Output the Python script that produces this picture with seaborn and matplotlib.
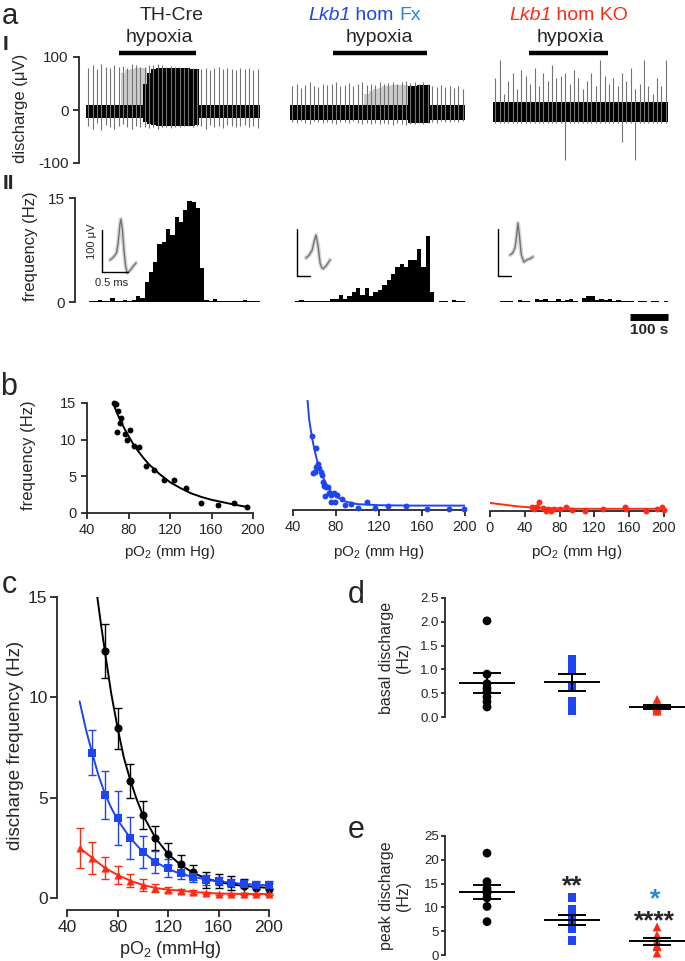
import numpy as np
import pandas as pd
import matplotlib
matplotlib.use("Agg")
import matplotlib.pyplot as plt
import seaborn as sns

W, H = 685, 961
BLUE = "#1f45f0"
LIGHT_BLUE = "#1e8ae0"
RED = "#ff2a14"
GREY = "#8a8a8a"

# ---------------- panel a: traces (envelope per 11.25 s bin, uV) ----------------
bin_s = 11.25
th_band_hi = [10] * 13 + [50, 70, 78, 80, 80, 80, 80, 80, 80, 80, 80, 78, 78] + [10] * 14
th_band_lo = [-15] * 13 + [-22, -26, -28, -30, -30, -30, -30, -30, -30, -30, -30, -30, -28] + [-15] * 14
th_curtain = [0] * 8 + [70, 75, 78, 80, 80, 80] + [0] * 26
th_spk_hi = [80, 84, 78, 86, 82, 79, 85, 81, 83, 80, 86, 84, 82, 82, 85, 84, 86, 84, 82, 83,
             82, 81, 80, 80, 79, 78, 78, 80, 76, 79, 81, 77, 80, 78, 75, 79, 77, 80, 76, 78]
th_spk_lo = [-30, -35, -25, -38, -28, -32, -36, -30, -27, -33, -35, -30, -32, -32, -34, -33, -35, -33, -32, -34,
             -33, -32, -31, -30, -32, -30, -30, -35, -28, -32, -30, -34, -29, -31, -33, -30, -28, -32, -30, -34]

fx_band_hi = [10] * 27 + [45, 46, 47, 48, 48] + [10] * 8
fx_band_lo = [-18] * 27 + [-25, -25, -25, -25, -25] + [-18] * 8
fx_curtain = [0] * 17 + [30, 35, 40, 42, 45, 45, 47, 47, 48, 48] + [0] * 13
fx_spk_hi = [45, 50, 42, 48, 52, 46, 44, 50, 47, 49, 53, 45, 48, 51, 46, 50, 52, 48, 50, 47,
             52, 49, 51, 53, 50, 52, 54, 51, 53, 50, 52, 50, 45, 43, 47, 44, 46, 42, 45, 40]
fx_spk_lo = [-22, -25, -20, -24, -26, -21, -23, -25, -22, -24, -27, -22, -23, -25, -21, -24, -26, -25, -26, -24,
             -27, -25, -26, -28, -25, -27, -28, -26, -27, -25, -26, -25, -22, -24, -21, -23, -22, -20, -23, -21]

ko_band_hi = [15] * 40
ko_band_lo = [-22] * 40
ko_curtain = [0] * 40
ko_spk_hi = [60, 95, 30, 55, 70, 40, 75, 65, 50, 80, 45, 70, 55, 85, 60, 65, 70, 50, 75, 60,
             40, 55, 70, 45, 95, 65, 50, 60, 45, 70, 55, 80, 40, 50, 95, 45, 30, 60, 45, 95]
ko_spk_lo = [-25, -25, -25, -25, -25, -25, -25, -25, -25, -25, -25, -25, -25, -25, -25, -25, -95, -25, -25, -25,
             -25, -25, -25, -25, -25, -25, -25, -25, -25, -60, -25, -25, -95, -25, -25, -25, -25, -25, -25, -25]

hypoxia_s = [(85, 284), (110, 352), (93, 296)]

# panel a II: firing rate per bin (Hz)
th_rate = [0.2, 0.2, 0.3, 0.1, 0.2, 0.6, 0.2, 0.1, 0.3, 0.1, 0.3, 0.8, 0.6, 2.9, 4.3, 5.8, 8.4, 8.6, 10.6, 9.7,
           12.3, 11.6, 13.2, 14.5, 14.4, 13.5, 4.9, 0.3, 0.1, 0.4, 0.2, 0.1, 0.1, 0.1, 0.2, 0.1, 0.3, 0.1, 0.2, 0.1]
fx_rate = [0.1, 0.3, 0.2, 0.2, 0.1, 0.2, 0.1, 0.1, 0.4, 0.4, 1.0, 0.5, 0.9, 1.5, 2.0, 1.0, 2.0, 0.8, 1.4, 1.8,
           2.4, 3.2, 4.0, 5.0, 5.5, 5.0, 6.0, 6.0, 7.7, 5.0, 9.5, 1.4, 0.0, 0.1, 0.1, 0.0, 0.3, 0.2, 0.1]
ko_rate = [0.0, 0.1, 0.1, 0.1, 0.0, 0.3, 0.1, 0.1, 0.0, 0.4, 0.3, 0.4, 0.2, 0.1, 0.4, 0.1, 0.3, 0.4, 0.1, 0.0,
           0.6, 0.9, 0.8, 0.3, 0.4, 0.3, 0.4, 0.2, 0.3, 0.1, 0.2, 0.1, 0.0, 0.1, 0.1, 0.0, 0.1, 0.1, 0.0, 0.1]

# spike waveform insets (ms, uV)
th_wave_t = [0, 0.05, 0.10, 0.13, 0.16, 0.19, 0.21, 0.24, 0.27, 0.30, 0.33, 0.38, 0.44, 0.50]
th_wave_v = [0, 5, 12, 19, 45, 85, 98, 70, 20, -15, -31, -26, -16, -7]
fx_wave_t = [0, 0.12, 0.24, 0.31, 0.39, 0.47, 0.55, 0.62, 0.67, 0.78, 0.94]
fx_wave_v = [0, 6, 17, 34, 49, 26, -11, -21, -23, -17, -4]
ko_wave_t = [0, 0.10, 0.19, 0.25, 0.30, 0.36, 0.43, 0.53, 0.65, 0.76, 0.87]
ko_wave_v = [0, 4, 15, 40, 68, 40, 0, -15, -10, -8, -4]

# ---------------- panel b: single-fibre frequency vs pO2 ----------------
b_th_x = [66.5, 67.5, 69.5, 72.8, 71.6, 68.6, 77.0, 81.3, 78.7, 85.5, 90.5, 97.3, 105, 114.5, 124, 135.6, 150.3, 166.3, 181.9, 194.5]
b_th_y = [15.0, 14.9, 13.95, 12.95, 12.3, 11.0, 10.8, 11.3, 10.0, 9.2, 9.0, 6.4, 5.8, 4.45, 4.5, 3.4, 1.4, 1.15, 1.3, 0.8]
b_th_fit_x = [65, 70, 75, 80, 85, 90, 95, 100, 110, 120, 130, 140, 150, 160, 170, 180, 195]
b_th_fit_y = [15.0, 13.3, 11.8, 10.5, 9.3, 8.3, 7.4, 6.6, 5.3, 4.2, 3.4, 2.7, 2.2, 1.8, 1.5, 1.2, 0.8]

b_fx_x = [57.5, 61.6, 60.4, 62.8, 64.0, 65.6, 66.9, 68.5, 70.9, 69.7, 73.8, 75.8, 77.9, 80.7, 75.0, 79.0,
          86.0, 88.0, 94.0, 100.3, 109.0, 116.5, 128.8, 145.0, 165.0, 185.0, 199.0, 58.7, 61.6, 72.6, 67.7]
b_fx_y = [10.1, 8.5, 5.2, 6.3, 5.7, 5.2, 4.8, 3.3, 3.1, 1.9, 2.3, 2.0, 2.3, 2.1, 1.05, 1.05,
          1.5, 0.7, 0.85, 0.25, 1.1, 0.25, 0.6, 0.5, 0.1, 0.1, 0.1, 5.0, 5.9, 3.1, 3.8]
b_fx_fit_x = [53.5, 55, 57.5, 60, 62.5, 65, 70, 75, 80, 90, 100, 120, 150, 200]
b_fx_fit_y = [15.0, 12.4, 10.0, 8.2, 6.7, 5.5, 3.8, 2.6, 1.8, 1.1, 0.8, 0.65, 0.6, 0.6]

b_ko_x = [48.2, 50.3, 53.0, 56.8, 54.0, 60.8, 64.0, 66.8, 70.0, 74.0, 80.0, 87.0, 94.5, 109.5, 129.6, 154.8, 156.0, 179.0, 192.5, 197.5, 200.0]
b_ko_y = [0.5, 0.3, 0.6, 1.2, 0.5, 0.4, 0.0, 0.3, 0.0, 0.3, 0.3, 0.5, 0.2, 0.0, 0.3, 0.5, 0.3, 0.0, 0.3, 0.5, 0.2]
b_ko_fit_x = [0, 10, 20, 30, 40, 50, 60, 80, 100, 150, 200]
b_ko_fit_y = [1.1, 0.95, 0.8, 0.65, 0.55, 0.45, 0.4, 0.35, 0.3, 0.3, 0.3]

# ---------------- panel c: mean +/- SEM ----------------
c_th_x = [70, 80, 90, 100, 110, 120, 130, 140, 150, 160, 170, 180, 190, 200]
c_th_mean = [12.3, 8.45, 5.85, 4.15, 3.0, 2.2, 1.7, 1.28, 0.9, 0.83, 0.75, 0.6, 0.5, 0.45]
c_th_sem = [1.35, 1.0, 0.85, 0.7, 0.6, 0.55, 0.45, 0.38, 0.4, 0.35, 0.35, 0.35, 0.3, 0.3]
c_fx_x = [60, 70, 80, 90, 100, 110, 120, 130, 140, 150, 160, 170, 180, 190, 200]
c_fx_mean = [7.25, 5.15, 4.0, 3.0, 2.3, 1.8, 1.5, 1.25, 1.05, 0.9, 0.83, 0.75, 0.7, 0.67, 0.63]
c_fx_sem = [1.1, 1.2, 1.35, 1.05, 0.8, 0.55, 0.45, 0.3, 0.25, 0.25, 0.2, 0.2, 0.2, 0.2, 0.2]
c_ko_x = [50, 60, 70, 80, 90, 100, 110, 120, 130, 140, 150, 160, 170, 180, 190, 200]
c_ko_mean = [2.5, 2.0, 1.5, 1.15, 0.87, 0.65, 0.5, 0.42, 0.35, 0.3, 0.25, 0.22, 0.2, 0.2, 0.2, 0.2]
c_ko_sem = [1.0, 0.8, 0.55, 0.45, 0.33, 0.28, 0.2, 0.12, 0.1, 0.08, 0.06, 0.05, 0.05, 0.05, 0.05, 0.05]
c_th_fit_x = [64, 67, 70, 75, 80, 85, 90, 95, 100, 110, 120, 130, 140, 150, 160, 170, 180, 190, 200]
c_th_fit_y = [15.0, 13.6, 12.3, 10.2, 8.5, 7.0, 5.9, 4.95, 4.15, 3.0, 2.2, 1.65, 1.25, 0.98, 0.8, 0.68, 0.6, 0.55, 0.5]
c_fx_fit_x = [50, 55, 60, 65, 70, 75, 80, 90, 100, 110, 120, 130, 140, 150, 160, 180, 200]
c_fx_fit_y = [9.8, 8.4, 7.2, 6.1, 5.2, 4.5, 3.9, 3.0, 2.3, 1.8, 1.45, 1.2, 1.05, 0.93, 0.83, 0.7, 0.63]
c_ko_fit_x = [50, 60, 70, 80, 90, 100, 110, 120, 140, 160, 180, 200]
c_ko_fit_y = [2.5, 2.0, 1.5, 1.15, 0.87, 0.65, 0.5, 0.42, 0.3, 0.22, 0.2, 0.2]

# ---------------- panels d, e: per-animal values ----------------
groups = ["TH-Cre", "Fx", "KO"]
basal_th = [2.02, 0.9, 0.7, 0.6, 0.53, 0.42, 0.32, 0.21]
basal_fx = [1.2, 1.1, 0.99, 0.63, 0.32, 0.13]
basal_ko = [0.37, 0.22, 0.2, 0.18, 0.15, 0.12]
peak_th = [21.4, 15.4, 14.0, 13.5, 13.0, 12.0, 10.2, 7.0]
peak_fx = [12.1, 9.6, 8.0, 7.0, 6.3, 5.5, 3.0]
peak_ko = [5.9, 4.2, 3.0, 2.0, 1.7, 0.4]

sns.set_style("ticks")
plt.rcParams["font.family"] = ["Liberation Sans", "DejaVu Sans"]
plt.rcParams.update({
    "axes.linewidth": 1.3, "xtick.major.width": 1.3, "ytick.major.width": 1.3,
    "xtick.major.size": 4, "ytick.major.size": 4, "axes.unicode_minus": False,
    "mathtext.fontset": "custom", "mathtext.rm": "Liberation Sans",
    "mathtext.it": "Liberation Sans:italic",
})

fig = plt.figure(figsize=(W / 100, H / 100), dpi=100)


def box(x0, y0, x1, y1):
    return [x0 / W, 1 - y1 / H, (x1 - x0) / W, (y1 - y0) / H]


def ftext(px, py, s, **kw):
    return fig.text(px / W, 1 - py / H, s, **kw)


def bare(ax):
    for sp in ax.spines.values():
        sp.set_visible(False)
    ax.set_xticks([])
    ax.set_yticks([])


# ---- a I: raw traces ----
trace_boxes = [(86, 57, 260, 163), (290, 57, 465, 163), (493, 57, 668, 163)]
trace_data = [(th_band_lo, th_band_hi, th_curtain, th_spk_lo, th_spk_hi),
              (fx_band_lo, fx_band_hi, fx_curtain, fx_spk_lo, fx_spk_hi),
              (ko_band_lo, ko_band_hi, ko_curtain, ko_spk_lo, ko_spk_hi)]
for i, (bx, (blo, bhi, cur, slo, shi)) in enumerate(zip(trace_boxes, trace_data)):
    ax = fig.add_axes(box(*bx))
    n = len(bhi)
    edges = np.arange(n + 1) * bin_s
    centers = (np.arange(n) + 0.5) * bin_s
    ax.stairs(cur, edges, baseline=0, fill=True, color="0.8", lw=0)
    ax.vlines(centers, slo, shi, color="0.45", lw=0.8)
    ax.stairs(bhi, edges, baseline=blo, fill=True, color="k", lw=0)
    ax.hlines(108, hypoxia_s[i][0], hypoxia_s[i][1], color="k", lw=3.2, clip_on=False)
    ax.set_xlim(0, n * bin_s)
    ax.set_ylim(-100, 100)
    bare(ax)
    if i == 0:
        ax.spines["left"].set_visible(True)
        ax.spines["left"].set_position(("outward", 5))
        ax.set_yticks([-100, 0, 100])
        ax.tick_params(axis="y", labelsize=11, length=4)

# ---- a II: rate histograms ----
hist_boxes = [(89, 198, 260, 302), (295, 198, 465, 302), (496, 198, 668, 302)]
for i, (bx, rate) in enumerate(zip(hist_boxes, [th_rate, fx_rate, ko_rate])):
    ax = fig.add_axes(box(*bx))
    n = len(rate)
    hist_df = pd.DataFrame({"t": (np.arange(n) + 0.5) * bin_s, "rate": rate})
    sns.histplot(data=hist_df, x="t", weights="rate", binwidth=bin_s, binrange=(0, n * bin_s),
                 color="k", alpha=1, linewidth=0, ax=ax)
    ax.set_xlim(0, n * bin_s)
    ax.set_ylim(0, 15)
    ax.set_ylabel("")
    ax.set_xlabel("")
    bare(ax)
    if i == 0:
        ax.spines["left"].set_visible(True)
        ax.spines["left"].set_position(("outward", 10))
        ax.set_yticks([0, 15])
        ax.tick_params(axis="y", labelsize=11, length=4)
    if i == 2:
        ax.hlines(-2.2, n * bin_s - 100, n * bin_s, color="k", lw=5, clip_on=False)
        ax.text(n * bin_s - 50, -4.0, "100 s", ha="center", va="center", fontsize=11,
                fontweight="bold", clip_on=False)

# ---- insets: spike waveforms ----
inset_boxes = [(98, 210, 142, 286), (294, 222, 336, 282), (494, 218, 538, 282)]
inset_lims = [((-0.230, 0.614), (-62.4, 120)), ((-0.468, 1.17), (-51.1, 76.7)), ((-0.608, 1.064), (-57.5, 78.8))]
bar_anchor = [(-0.154, -28.8), (-0.351, -38.3), (-0.456, -44.7)]
waves = [(th_wave_t, th_wave_v), (fx_wave_t, fx_wave_v), (ko_wave_t, ko_wave_v)]
for bx, (xl, yl), (t0, v0), (wt, wv) in zip(inset_boxes, inset_lims, bar_anchor, waves):
    ax = fig.add_axes(box(*bx))
    ax.plot(wt, wv, color=GREY, lw=3, alpha=0.35)
    ax.plot(wt, wv, color="0.45", lw=1.0)
    ax.plot([t0, t0, t0 + 0.5], [v0 + 100, v0, v0], color="k", lw=1.0)
    ax.set_xlim(*xl)
    ax.set_ylim(*yl)
    ax.patch.set_alpha(0)
    bare(ax)
ftext(92, 241, "100 \u03bcV", rotation=90, ha="center", va="center", fontsize=8)
ftext(112, 283, "0.5 ms", ha="center", va="center", fontsize=8)

# ---- panel a text ----
ftext(2, 24, "a", fontsize=21, va="baseline")
ftext(3, 50, "I", fontsize=15, va="baseline", fontweight="bold")
ftext(3, 189, "II", fontsize=15, va="baseline", fontweight="bold")
ftext(21, 108, "discharge (\u03bcV)", rotation=90, ha="center", va="center", fontsize=12)
ftext(30, 246, "frequency (Hz)", rotation=90, ha="center", va="center", fontsize=12)
ftext(172, 20, "TH-Cre", ha="center", va="baseline", fontsize=14)
for cx, label_parts in [(308, [("Lkb1", BLUE, "italic"), (" hom ", BLUE, "normal"), ("Fx", LIGHT_BLUE, "normal")]),
                        (509, [("Lkb1", RED, "italic"), (" hom KO", RED, "normal")])]:
    prev = ftext(cx, 20, label_parts[0][0], color=label_parts[0][1], style=label_parts[0][2],
                 va="baseline", fontsize=14)
    for s, col, sty in label_parts[1:]:
        prev = fig.axes[0].annotate(s, xy=(1, 0), xycoords=prev, va="bottom", color=col,
                                    style=sty, fontsize=14, annotation_clip=False)
for cx in [159, 379, 570]:
    ftext(cx, 42, "hypoxia", ha="center", va="baseline", fontsize=14)

# ---- panel b ----
b_boxes = [(87, 403, 253, 513), (293, 400, 465, 510), (490, 401, 664, 511)]
b_sets = [(b_th_x, b_th_y, b_th_fit_x, b_th_fit_y, "k", (40, 200)),
          (b_fx_x, b_fx_y, b_fx_fit_x, b_fx_fit_y, BLUE, (40, 200)),
          (b_ko_x, b_ko_y, b_ko_fit_x, b_ko_fit_y, RED, (0, 200))]
for i, (bx, (px_, py_, fx_, fy_, col, xl)) in enumerate(zip(b_boxes, b_sets)):
    ax = fig.add_axes(box(*bx))
    sns.lineplot(x=fx_, y=fy_, color=col, lw=1.4, ax=ax, estimator=None, sort=False)
    sns.scatterplot(x=px_, y=py_, color=col, s=18, linewidth=0, ax=ax, clip_on=False, zorder=3)
    ax.set_xlim(*xl)
    ax.set_ylim(0, 15)
    ax.set_xticks(np.arange(xl[0], 201, 40))
    ax.tick_params(labelsize=10.5)
    sns.despine(ax=ax)
    if i > 0:
        ax.spines["left"].set_visible(False)
        ax.set_yticks([])
    else:
        ax.set_yticks([0, 5, 10, 15])
    ax.set_xlabel("")
    ax.set_ylabel("")
    ftext((bx[0] + bx[2]) / 2, 552, "pO$_2$ (mm Hg)", ha="center", va="center", fontsize=11)
ftext(0, 395, "b", fontsize=22, va="baseline")
ftext(29, 455, "frequency (Hz)", rotation=90, ha="center", va="center", fontsize=12)

# ---- panel c ----
ax = fig.add_axes(box(67, 597, 269, 898))
c_sets = [(c_th_x, c_th_mean, c_th_sem, c_th_fit_x, c_th_fit_y, "k", "o"),
          (c_fx_x, c_fx_mean, c_fx_sem, c_fx_fit_x, c_fx_fit_y, BLUE, "s"),
          (c_ko_x, c_ko_mean, c_ko_sem, c_ko_fit_x, c_ko_fit_y, RED, "^")]
for x, m, e, fx_, fy_, col, mk in c_sets:
    ax.errorbar(x, m, yerr=e, fmt="none", ecolor=col, elinewidth=1.0, capsize=3, capthick=1.0, clip_on=False)
    sns.lineplot(x=fx_, y=fy_, color=col, lw=1.4, ax=ax, estimator=None, sort=False)
    sns.scatterplot(x=x, y=m, color=col, marker=mk, s=34, linewidth=0, ax=ax, clip_on=False, zorder=4)
ax.set_xlim(40, 200)
ax.set_ylim(0, 15)
ax.set_xticks([40, 80, 120, 160, 200])
ax.set_yticks([0, 5, 10, 15])
ax.tick_params(labelsize=12.5, length=5, pad=2)
sns.despine(ax=ax)
ax.spines["left"].set_position(("outward", 7))
ax.spines["bottom"].set_position(("outward", 8.6))
ax.set_xlabel("")
ax.set_ylabel("")
ftext(2, 593, "c", fontsize=22, va="baseline")
ftext(16, 745, "discharge frequency (Hz)", rotation=90, ha="center", va="center", fontsize=13.5)
ftext(170, 950, "pO$_2$ (mmHg)", ha="center", va="center", fontsize=13)

# ---- panels d, e ----
palette = {"TH-Cre": "k", "Fx": BLUE, "KO": RED}
markers = {"TH-Cre": "o", "Fx": "s", "KO": "^"}
for bx, vals, yt, letter, ylab, lpy in [
        ((445, 598, 685, 717), [basal_th, basal_fx, basal_ko], np.arange(0, 2.6, 0.5), "d", "basal discharge\n(Hz)", 603),
        ((445, 836, 685, 955), [peak_th, peak_fx, peak_ko], np.arange(0, 26, 5), "e", "peak discharge\n(Hz)", 838)]:
    ax = fig.add_axes(box(*bx))
    df = pd.DataFrame({"group": np.repeat(groups, [len(v) for v in vals]),
                       "pos": np.repeat(np.arange(3), [len(v) for v in vals]),
                       "val": np.concatenate(vals)})
    sns.scatterplot(data=df, x="pos", y="val", hue="group", style="group", palette=palette,
                    markers=markers, s=40, linewidth=0, legend=False, ax=ax, clip_on=False)
    for p, v in enumerate(vals):
        v = np.asarray(v)
        mean = v.mean()
        sem = v.std(ddof=1) / np.sqrt(len(v))
        ax.hlines(mean, p - 0.33, p + 0.33, color="k", lw=1.4, zorder=5)
        ax.hlines([mean - sem, mean + sem], p - 0.17, p + 0.17, color="k", lw=1.4, zorder=5)
        ax.vlines(p, mean - sem, mean + sem, color="k", lw=1.4, zorder=5)
    ax.set_xlim(-0.494, 2.329)
    ax.set_ylim(yt[0], yt[-1])
    ax.set_yticks(yt)
    if letter == "d":
        ax.set_yticklabels([f"{t:.1f}" for t in yt])
    ax.tick_params(axis="y", labelsize=9.5, length=3, pad=1.5)
    sns.despine(ax=ax, bottom=True)
    ax.set_xticks([])
    ax.set_xlabel("")
    ax.set_ylabel("")
    ftext(348, lpy, letter, fontsize=22, va="baseline")
    ftext(395, (bx[1] + bx[3]) / 2, ylab, rotation=90, ha="center", va="center", fontsize=11.5,
          linespacing=1.1, multialignment="center")

ftext(572, 893, "**", ha="center", va="baseline", fontsize=19, fontweight="bold")
ftext(655, 906, "*", ha="center", va="baseline", fontsize=19, fontweight="bold", color=LIGHT_BLUE)
ftext(654, 928, "****", ha="center", va="baseline", fontsize=19, fontweight="bold")

fig.savefig("out.png", dpi=100)
